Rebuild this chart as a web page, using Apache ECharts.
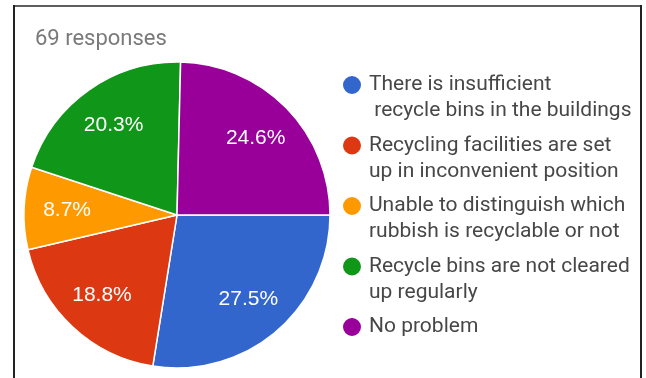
<!DOCTYPE html>
<html>
<head>
<meta charset="utf-8">
<script src="https://cdn.jsdelivr.net/npm/echarts@6/dist/echarts.min.js"></script>
<style>
  html, body { margin: 0; padding: 0; background: #fff; }
  #chart { width: 646px; height: 378px; }
</style>
</head>
<body>
<div id="chart"></div>
<script>
// Survey answers, share of 69 responses (%), listed in legend order
const categories = [
  'There is insufficient\n recycle bins in the buildings',
  'Recycling facilities are set\nup in inconvenient position',
  'Unable to distinguish which\nrubbish is recyclable or not',
  'Recycle bins are not cleared\nup regularly',
  'No problem'
];
const shares = [27.5, 18.8, 8.7, 20.3, 24.6];
const sliceColors = ['#3366cc', '#dc3912', '#ff9900', '#109618', '#990099'];
const subtitle = '69 responses';

const center = [177, 215];
const outerR = 153;

const chart = echarts.init(document.getElementById('chart'), null, { renderer: 'canvas' });

const pieData = categories.map((name, i) => ({
  name: name,
  value: shares[i],
  itemStyle: { color: sliceColors[i] }
}));

chart.setOption({
  backgroundColor: '#ffffff',
  animation: false,
  title: {
    text: subtitle,
    left: 35,
    top: 28,
    padding: 0,
    textStyle: { fontFamily: 'Roboto', fontSize: 22, fontWeight: 'normal', color: '#7a7a7a' }
  },
  legend: {
    orient: 'vertical',
    left: 341,
    top: 46,
    padding: 0,
    itemGap: -17.5,
    itemWidth: 24,
    itemHeight: 20,
    icon: 'circle',
    selectedMode: false,
    // every entry is padded to three lines so its first line sits level with the dot
    formatter: name => '\n' + name + (name.indexOf('\n') >= 0 ? '' : '\n'),
    textStyle: {
      fontFamily: 'Roboto',
      fontSize: 21,
      lineHeight: 26,
      color: '#474747'
    },
    data: categories.map((name, i) => ({
      name: name,
      itemStyle: { color: sliceColors[i] }
    }))
  },
  graphic: [
    { type: 'line', shape: { x1: 14, y1: 6, x2: 642, y2: 6 }, style: { stroke: '#5e5e5e', lineWidth: 2 } },
    { type: 'line', shape: { x1: 14, y1: 5, x2: 14, y2: 380 }, style: { stroke: '#222222', lineWidth: 2 } },
    { type: 'line', shape: { x1: 641, y1: 5, x2: 641, y2: 380 }, style: { stroke: '#222222', lineWidth: 2 } }
  ],
  series: [
    {
      type: 'pie',
      center: center,
      radius: [0, outerR],
      startAngle: 0,
      clockwise: true,
      label: { show: false },
      labelLine: { show: false },
      itemStyle: { borderColor: '#ffffff', borderWidth: 1.5 },
      emphasis: { disabled: true },
      data: pieData
    },
    {
      // ring carrying the percentage labels further out from the centre
      type: 'pie',
      center: center,
      radius: [61, outerR],
      startAngle: 0,
      clockwise: true,
      silent: true,
      itemStyle: { color: 'rgba(0,0,0,0)' },
      label: {
        show: true,
        position: 'inside',
        formatter: '{c}%',
        fontFamily: 'Liberation Sans, Arial, sans-serif',
        fontSize: 21,
        color: '#ffffff'
      },
      labelLine: { show: false },
      emphasis: { disabled: true },
      data: categories.map((name, i) => ({ name: name, value: shares[i] }))
    }
  ]
});
</script>
</body>
</html>
